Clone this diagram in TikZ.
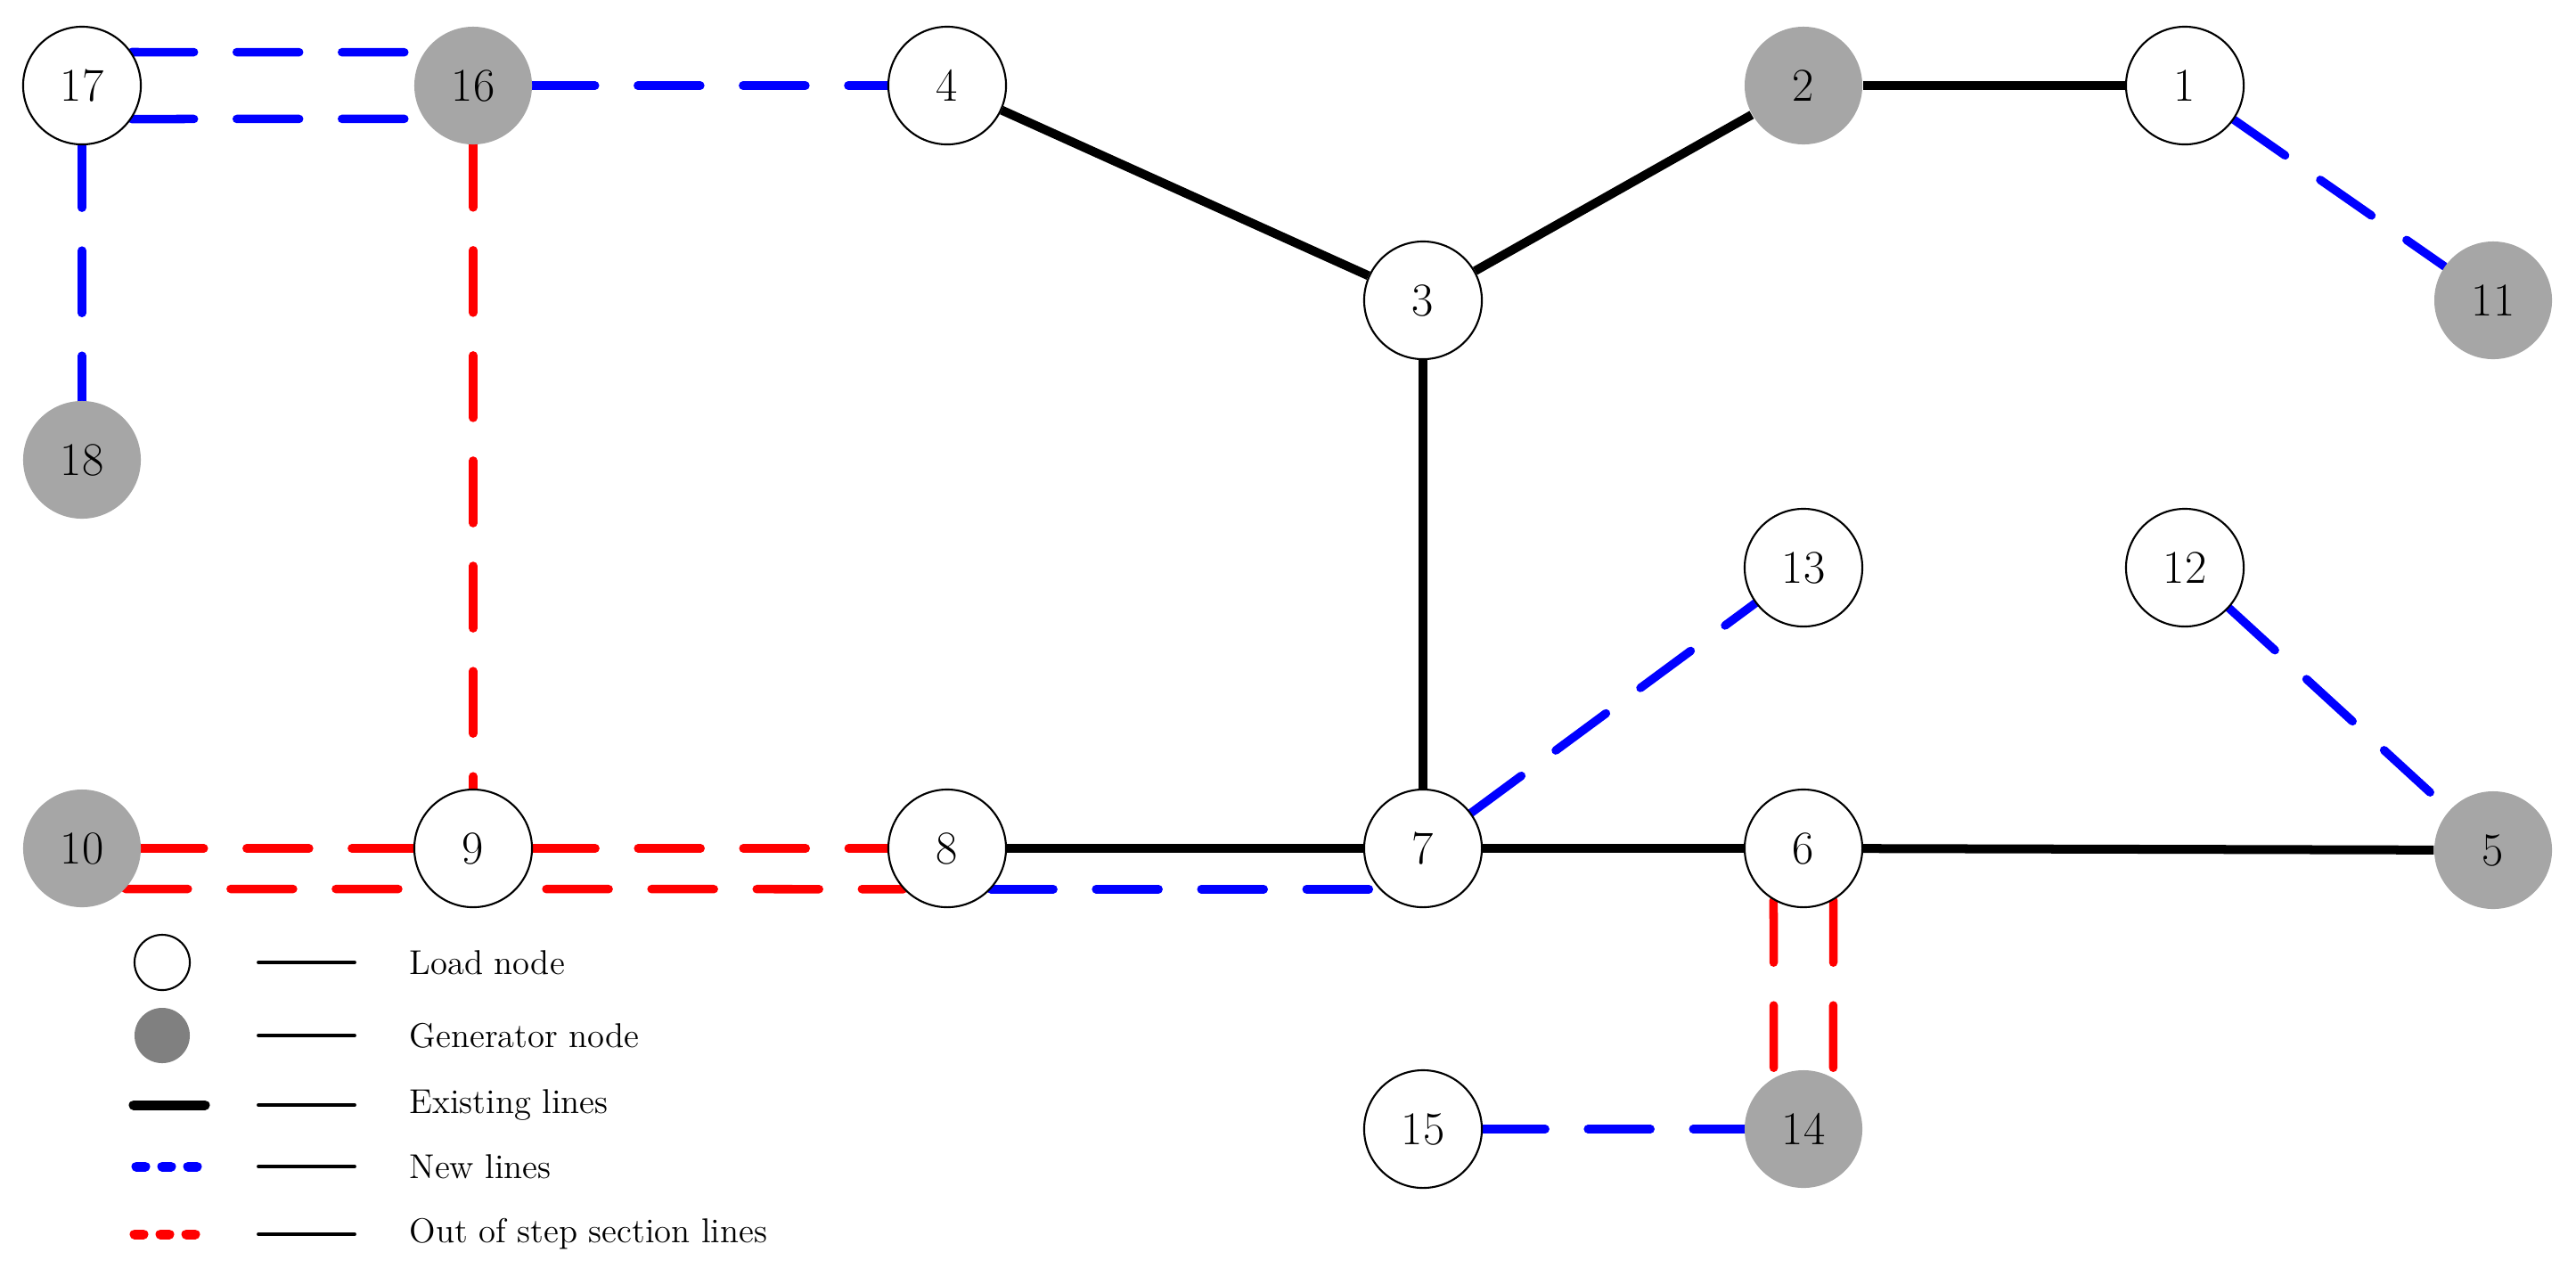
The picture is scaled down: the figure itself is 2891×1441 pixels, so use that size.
\documentclass[tikz,border=0pt]{standalone}
\usetikzlibrary{backgrounds}

\begin{document}
\begin{tikzpicture}[x=0.01cm,y=-0.01cm,
  load/.style={shape=circle,draw=black,fill=white,line width=0.6pt,minimum size=1.32cm,inner sep=0pt,font=\fontsize{15}{18}\selectfont},
  gen/.style={shape=circle,fill=black!35,minimum size=1.32cm,inner sep=0pt,font=\fontsize{15}{18}\selectfont},
  exist/.style={draw=black,line width=0.1cm},
  newl/.style={draw=blue,line width=0.095cm,line cap=round,dash pattern=on 0.7cm off 0.48cm},
  oos/.style={draw=red,line width=0.095cm,line cap=round,dash pattern=on 0.7cm off 0.48cm},
  legtext/.style={anchor=west,inner sep=0pt,font=\fontsize{11}{13}\selectfont}]
\useasboundingbox (0,0) rectangle (2891,1441);

\node[load] (17) at (92,96) {17};
\node[gen] (16) at (531,96) {16};
\node[load] (4) at (1063,96) {4};
\node[gen] (2) at (2024,96) {2};
\node[load] (1) at (2452,96) {1};
\node[load] (3) at (1597,337) {3};
\node[gen] (11) at (2798,337) {11};
\node[gen] (18) at (92,516) {18};
\node[load] (13) at (2024,637) {13};
\node[load] (12) at (2452,637) {12};
\node[gen] (10) at (92,952) {10};
\node[load] (9) at (531,952) {9};
\node[load] (8) at (1063,952) {8};
\node[load] (7) at (1597,952) {7};
\node[load] (6) at (2024,952) {6};
\node[gen] (5) at (2798,954) {5};
\node[load] (15) at (1597,1267) {15};
\node[gen] (14) at (2024,1267) {14};

\begin{scope}[on background layer]
\path [exist] (4) edge (3);
\path [exist] (3) edge (2);
\path [exist] (2) edge (1);
\path [exist] (3) edge (7);
\path [exist] (8) edge (7);
\path [exist] (7) edge (6);
\path [exist] (6) edge (5);

\path [newl] (17.34) edge (16.146);
\path [newl] (17.-34) edge (16.-146);
\path [newl] (16) edge (4);
\path [newl] (17) edge (18);
\path [newl] (1) edge (11);
\path [newl] (7) edge (13);
\path [newl] (12) edge (5);
\path [newl] (8.-43) edge (7.-137);
\path [newl] (15) edge (14);

\path [oos] (16) edge (9);
\path [oos] (10) edge (9);
\path [oos] (9) edge (8);
\path [oos] (10.-43) edge (8.-137);
\path [oos] (6.-120) edge (14.120);
\path [oos] (6.-60) edge (14.60);
\end{scope}

% legend
\node[load,minimum size=0.62cm] (lload) at (182,1080) {};
\node[shape=circle,fill=black!50,minimum size=0.62cm,inner sep=0pt] (lgen) at (182,1162) {};
\draw[line width=0.11cm,line cap=round] (150,1240) -- (230,1240);
\draw[blue,line width=0.11cm,line cap=round,dash pattern=on 0.1cm off 0.19cm] (153,1309) -- (221,1309);
\draw[red,line width=0.11cm,line cap=round,dash pattern=on 0.1cm off 0.19cm] (151,1385) -- (219,1385);
\foreach \y/\txt in {1080/Load node,1162/Generator node,1240/Existing lines,1309/New lines,1385/Out of step section lines}{
  \draw[line width=1.1pt,line cap=round] (290,\y) -- (398,\y);
  \node[legtext] (leg\y) at (459,\y) {\txt};
}
\end{tikzpicture}
\end{document}
